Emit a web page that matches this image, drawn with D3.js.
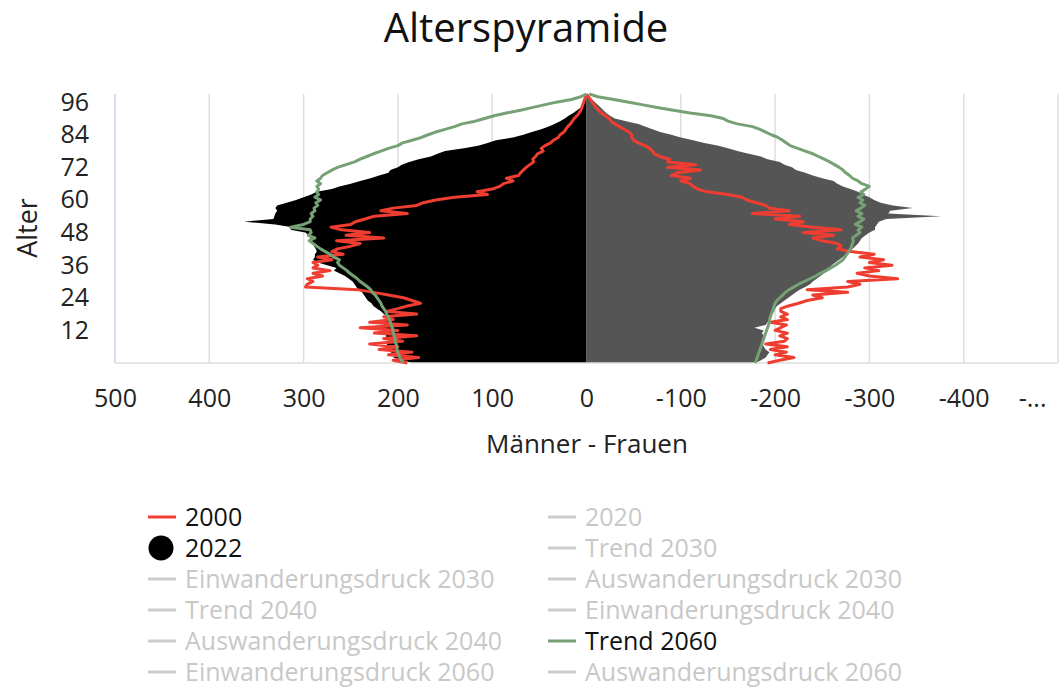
<html>
<head>
<meta charset="utf-8">
<title>Alterspyramide</title>
<style>
  body { margin: 0; background: #fff; }
  text { font-family: "Open Sans", Lato, sans-serif; }
</style>
</head>
<body>
<script src="https://cdn.jsdelivr.net/npm/d3@7"></script>
<script>

var width  = 1060;
var height = 688;

// Alter 0..99
var ages = d3.range(0, 100);

// 2022 Männer (schwarze Fläche, links)
var maenner2022 = [
  185, 195, 205, 200, 208, 206, 210, 212, 209, 211,
  213, 210, 212, 240, 215, 214, 212, 211, 215, 218,
  222, 226, 228, 232, 234, 236, 238, 242, 244, 246,
  248, 252, 256, 262, 268, 265, 275, 285, 290, 288,
  288, 286, 287, 289, 290, 292, 293, 295, 298, 314,
  312, 330, 363, 332, 331, 330, 328, 330, 328, 318,
  308, 300, 292, 286, 270, 262, 250, 240, 229, 220,
  210, 208, 200, 196, 188, 178, 165, 158, 150, 130,
  115, 105, 96, 78, 67, 58, 48, 40, 34, 28,
  23, 19, 14, 10, 6, 4, 3, 2, 1, 0
];

// 2022 Frauen (graue Fläche, rechts)
var frauen2022 = [
  179, 185, 190, 192, 194, 190, 188, 187, 186, 187,
  188, 186, 188, 178, 190, 192, 194, 195, 197, 199,
  200, 202, 206, 210, 214, 218, 222, 226, 232, 237,
  240, 244, 248, 252, 256, 258, 260, 264, 268, 272,
  275, 278, 282, 285, 288, 290, 292, 296, 300, 306,
  306, 308, 310, 318, 376, 320, 322, 346, 325, 312,
  305, 300, 293, 288, 280, 272, 266, 262, 250, 240,
  232, 222, 218, 210, 205, 192, 185, 172, 160, 150,
  140, 125, 113, 100, 90, 78, 70, 62, 55, 42,
  30, 25, 21, 18, 15, 12, 9, 6, 3, 0
];

// 2000 Männer (rot, links)
var maenner2000 = [
  190, 205, 178, 210, 185, 220, 200, 230, 195, 215,
  180, 225, 200, 240, 190, 230, 205, 215, 180, 212,
  200, 190, 176, 185, 194, 210, 226, 243, 298, 296,
  290, 296, 280, 290, 272, 290, 285, 290, 270, 285,
  258, 270, 264, 250, 240, 265, 215, 255, 230, 260,
  271, 250, 245, 235, 225, 190, 218, 205, 180, 173,
  160, 140, 105, 116, 100, 92, 88, 78, 85, 72,
  70, 67, 64, 60, 56, 57, 54, 52, 46, 48,
  44, 38, 35, 30, 28, 24, 22, 20, 17, 15,
  13, 10, 8, 6, 5, 4, 3, 2, 1, 0
];

// 2000 Frauen (rot, rechts)
var frauen2000 = [
  192, 205, 220, 200, 212, 195, 213, 190, 210, 213,
  205, 213, 200, 206, 212, 195, 213, 206, 213, 206,
  206, 214, 225, 234, 250, 240, 277, 234, 277, 290,
  277, 330, 300, 287, 310, 295, 324, 300, 315, 290,
  305, 280, 266, 270, 266, 250, 240, 262, 230, 270,
  240, 215, 230, 200, 226, 176, 215, 194, 190, 180,
  170, 165, 150, 128, 118, 113, 110, 100, 110, 90,
  96, 121, 86, 116, 86, 88, 78, 72, 70, 67,
  62, 55, 50, 48, 48, 45, 40, 35, 30, 26,
  24, 20, 16, 13, 10, 8, 6, 4, 2, 0
];

// Trend 2060 Männer (grün, links)
var maenner2060 = [
  195, 196, 198, 199, 200, 201, 201, 202, 203, 203,
  204, 205, 205, 206, 207, 208, 209, 210, 212, 213,
  215, 217, 218, 220, 222, 224, 227, 229, 232, 236,
  240, 243, 247, 251, 254, 258, 262, 264, 262, 268,
  272, 277, 282, 286, 290, 294, 288, 295, 292, 293,
  314, 300, 293, 293, 290, 292, 288, 289, 285, 287,
  282, 288, 284, 286, 284, 286, 282, 286, 282, 280,
  275, 270, 264, 255, 246, 240, 233, 226, 218, 210,
  200, 195, 185, 175, 168, 160, 150, 140, 132, 118,
  108, 98, 85, 70, 58, 45, 32, 16, 6, 0
];

// Trend 2060 Frauen (grün, rechts)
var frauen2060 = [
  179, 180, 181, 182, 183, 184, 185, 186, 187, 188,
  189, 190, 191, 192, 193, 194, 194, 195, 196, 197,
  198, 199, 200, 202, 205, 208, 211, 215, 220, 225,
  231, 237, 243, 248, 254, 259, 264, 268, 272, 274,
  276, 278, 280, 281, 282, 283, 282, 286, 290, 288,
  292, 285, 290, 294, 288, 292, 286, 291, 295, 290,
  293, 288, 294, 291, 296, 300, 292, 288, 282, 279,
  275, 272, 268, 263, 258, 252, 246, 240, 232, 224,
  216, 212, 208, 203, 196, 190, 184, 176, 160, 150,
  145, 132, 110, 92, 75, 60, 45, 29, 12, 3
];

var xTicks = [500, 400, 300, 200, 100, 0, -100, -200, -300, -400, -500];
var yTicks = [12, 24, 36, 48, 60, 72, 84, 96];

var legendLeft  = ["2000", "2022", "Einwanderungsdruck 2030", "Trend 2040", "Auswanderungsdruck 2040", "Einwanderungsdruck 2060"];
var legendRight = ["2020", "Trend 2030", "Auswanderungsdruck 2030", "Einwanderungsdruck 2040", "Trend 2060", "Auswanderungsdruck 2060"];

var rot  = "#ef3e31";
var gruen = "#76a174";
var grau = "#555556";

var svg = d3.select("body").append("svg")
    .attr("width", width)
    .attr("height", height);

var x = d3.scaleLinear().domain([500, -500]).range([115, 1058]);
var y = d3.scaleLinear().domain([0, 99]).range([363, 94]);

// Gitter
svg.append("g")
  .selectAll("line")
  .data(xTicks)
  .enter().append("line")
    .attr("x1", function(d){ return x(d); })
    .attr("x2", function(d){ return x(d); })
    .attr("y1", 94)
    .attr("y2", 363)
    .attr("stroke", function(d){ return d === 500 ? "#c9d5ea" : "#dedede"; })
    .attr("stroke-width", 1.5);

// Flächen 2022
var areaM = d3.area()
    .y(function(d){ return y(d); })
    .x0(x(0))
    .x1(function(d, i){ return x(maenner2022[i]); });

var areaF = d3.area()
    .y(function(d){ return y(d); })
    .x0(x(0))
    .x1(function(d, i){ return x(-frauen2022[i]); });

svg.append("path").datum(ages).attr("d", areaM).attr("fill", "#000");
svg.append("path").datum(ages).attr("d", areaF).attr("fill", grau);

// Grundlinie
svg.append("line")
  .attr("x1", 115).attr("x2", 1058)
  .attr("y1", 363).attr("y2", 363)
  .attr("stroke", "#dedede").attr("stroke-width", 1.5);

function linie(vals, sign) {
  return d3.line()
    .x(function(d, i){ return x(sign * vals[i]); })
    .y(function(d){ return y(d); })(ages);
}

var lines = [
  [maenner2000, 1, rot], [frauen2000, -1, rot],
  [maenner2060, 1, gruen], [frauen2060, -1, gruen]
];

svg.append("g").selectAll("path")
  .data(lines)
  .enter().append("path")
    .attr("d", function(d){ return linie(d[0], d[1]); })
    .attr("fill", "none")
    .attr("stroke", function(d){ return d[2]; })
    .attr("stroke-width", 3)
    .attr("stroke-linejoin", "round");

// Achsen
var xAxis = d3.axisBottom(x)
    .tickValues(xTicks)
    .tickSize(0)
    .tickPadding(0)
    .tickFormat(function(d){ return d === -500 ? "-..." : d; });

var gx = svg.append("g").attr("transform", "translate(0,407)").call(xAxis);
gx.select(".domain").remove();
gx.selectAll("text")
  .attr("y", 0)
  .attr("dy", 0)
  .style("font-size", "25px")
  .attr("fill", "#222");
// letzte Beschriftung ist im Original abgeschnitten und nach innen gerückt
gx.selectAll(".tick").filter(function(d){ return d === -500; })
  .select("text")
  .attr("text-anchor", "end")
  .attr("x", -12);

var yAxis = d3.axisLeft(y)
    .tickValues(yTicks)
    .tickSize(0)
    .tickPadding(0);

var gy = svg.append("g").attr("transform", "translate(89,0)").call(yAxis);
gy.select(".domain").remove();
gy.selectAll("text")
  .style("font-size", "25px")
  .attr("fill", "#222");

// Titel
svg.append("text")
  .attr("x", 526).attr("y", 42)
  .attr("text-anchor", "middle")
  .style("font-size", "40px")
  .attr("fill", "#111")
  .text("Alterspyramide");

svg.append("text")
  .attr("x", 587).attr("y", 453)
  .attr("text-anchor", "middle")
  .style("font-size", "26px")
  .attr("fill", "#222")
  .text("Männer - Frauen");

svg.append("text")
  .attr("transform", "translate(37,228) rotate(-90)")
  .attr("text-anchor", "middle")
  .style("font-size", "27px")
  .attr("fill", "#222")
  .text("Alter");

// Legende
var aktiv = { "2000": rot, "2022": "#000", "Trend 2060": gruen };

function legende(items, x0) {
  var g = svg.append("g").selectAll("g")
    .data(items)
    .enter().append("g")
      .attr("transform", function(d, i){ return "translate(" + x0 + "," + (517 + i * 31) + ")"; });

  g.each(function(d){
    var s = d3.select(this);
    if (d === "2022") {
      s.append("ellipse").attr("cx", 13).attr("cy", 0).attr("rx", 12.5).attr("ry", 12.5).attr("fill", "#000");
    } else {
      s.append("line").attr("x1", 0).attr("x2", 28).attr("y1", 0).attr("y2", 0)
        .attr("stroke", aktiv[d] || "#cccccc").attr("stroke-width", 3);
    }
  });

  g.append("text")
    .attr("x", 37).attr("y", 0).attr("dy", "0.36em")
    .style("font-size", "25px")
    .attr("fill", function(d){ return aktiv[d] ? "#111" : "#c8c8c8"; })
    .text(function(d){ return d; });
}

legende(legendLeft, 148);
legende(legendRight, 548);

</script>
</body>
</html>
